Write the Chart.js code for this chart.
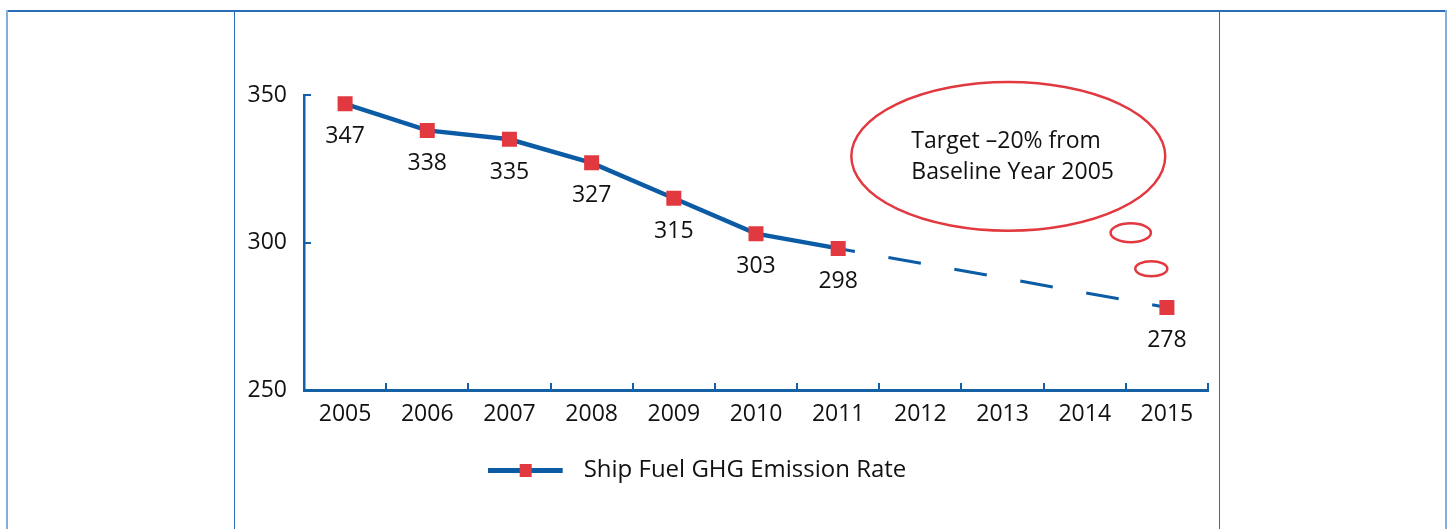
<!DOCTYPE html>
<html><head><meta charset="utf-8">
<script src="https://cdn.jsdelivr.net/npm/chart.js@4.4.0/dist/chart.umd.min.js"></script>
<style>
html,body{margin:0;padding:0;background:#fff;width:1453px;height:529px;overflow:hidden;}
#wrap{position:relative;width:1453px;height:529px;}
.vl{position:absolute;top:10px;bottom:0;}
#c{position:absolute;left:186px;top:0;width:1040px;height:529px;}
</style></head><body>
<div id="wrap">
<div style="position:absolute;left:6px;top:10px;width:1441px;height:2px;background:#2a6fb6"></div>
<div class="vl" style="left:6px;width:2px;background:#86afd8"></div>
<div class="vl" style="left:1445px;width:2px;background:#86afd8"></div>
<div class="vl" style="left:234px;width:1px;background:#2a6fb6"></div>
<div class="vl" style="left:1219px;width:1px;background:#2a6fb6"></div>
<canvas id="c" width="1040" height="529"></canvas>
</div>
<script>
// ---- data ----
const years = ['2005','2006','2007','2008','2009','2010','2011','2012','2013','2014','2015'];
const emissionRate = [347, 338, 335, 327, 315, 303, 298, null, null, null, 278];
const yTickValues = [250, 300, 350];
const seriesName = 'Ship Fuel GHG Emission Rate';
const calloutLines = ['Target \u201320% from', 'Baseline Year 2005'];

// ---- styles ----
const FONT = '"Open Sans", Lato, sans-serif';
const FS = 23;
const AXIS = '#155fa5';
const LINE = '#0b5ca5';
const RED = '#e2383f';
const TXT = '#111111';

// legend symbol: line with a square
const sym = document.createElement('canvas');
sym.width = 84; sym.height = 14;
(function(){
  const g = sym.getContext('2d');
  g.fillStyle = LINE; g.fillRect(0, 5, 75, 5);
  g.fillStyle = RED; g.fillRect(32, 1, 12, 13);
})();

const dataLabels = {
  id: 'dataLabels',
  afterDatasetsDraw(chart) {
    const ctx = chart.ctx;
    const meta = chart.getDatasetMeta(0);
    ctx.save();
    ctx.font = FS + 'px ' + FONT;
    ctx.fillStyle = TXT;
    ctx.textAlign = 'center';
    ctx.textBaseline = 'middle';
    meta.data.forEach((pt, i) => {
      const v = emissionRate[i];
      if (v === null) return;
      ctx.fillText(String(v), pt.x, pt.y + 33);
    });
    ctx.restore();
  }
};

// callout (thought bubble) placed in data coordinates
const callout = {
  id: 'callout',
  afterDatasetsDraw(chart) {
    const xs = chart.scales.x, ys = chart.scales.y, ctx = chart.ctx;
    const cw = xs.getPixelForValue(1) - xs.getPixelForValue(0);
    const uy = ys.getPixelForValue(250) - ys.getPixelForValue(251);
    const ell = (xi, yv, rxc, ryu) => {
      ctx.beginPath();
      ctx.ellipse(xs.getPixelForValue(xi), ys.getPixelForValue(yv), rxc * cw, ryu * uy, 0, 0, Math.PI * 2);
      ctx.stroke();
    };
    ctx.save();
    ctx.strokeStyle = RED; ctx.lineWidth = 2.5;
    ell(8.07, 329.2, 1.91, 25.2);
    ell(9.56, 303.3, 0.245, 3.2);
    ell(9.81, 291.1, 0.195, 2.55);
    ctx.font = FS + 'px ' + FONT;
    ctx.fillStyle = TXT;
    ctx.textAlign = 'left';
    ctx.textBaseline = 'middle';
    ctx.fillText(calloutLines[0], xs.getPixelForValue(6.89), ys.getPixelForValue(334.4));
    ctx.fillText(calloutLines[1], xs.getPixelForValue(6.89), ys.getPixelForValue(323.6));
    ctx.restore();
  }
};

new Chart(document.getElementById('c'), {
  type: 'line',
  data: {
    labels: years,
    datasets: [{
      label: seriesName,
      data: emissionRate,
      borderColor: LINE,
      borderWidth: 4.5,
      tension: 0,
      spanGaps: true,
      pointStyle: 'rect',
      pointRadius: 10.6,
      pointHoverRadius: 10.6,
      pointBackgroundColor: RED,
      pointBorderColor: RED,
      pointBorderWidth: 0,
      segment: {
        borderDash: c => c.p1DataIndex > 6 ? [33, 34] : undefined,
        borderDashOffset: c => c.p1DataIndex > 6 ? 16 : undefined,
        borderWidth: c => c.p1DataIndex > 6 ? 3 : undefined
      }
    }]
  },
  options: {
    responsive: false,
    devicePixelRatio: 1,
    animation: false,
    layout: { padding: { top: 95, left: 0, right: 18, bottom: 37 } },
    plugins: {
      tooltip: { enabled: false },
      legend: {
        position: 'bottom',
        labels: {
          usePointStyle: true,
          pointStyle: sym,
          pointStyleWidth: 84,
          font: { family: FONT, size: 24 },
          color: TXT,
          padding: 10
        }
      }
    },
    scales: {
      x: {
        offset: true,
        grid: { offset: true, drawOnChartArea: false, drawTicks: true, tickLength: -7, color: AXIS, lineWidth: 2 },
        border: { color: AXIS, width: 3 },
        ticks: { font: { family: FONT, size: FS }, color: TXT, padding: 18, maxRotation: 0, autoSkip: false },
        afterFit: s => { s.height = 58; }
      },
      y: {
        min: 250, max: 350,
        afterBuildTicks: s => { s.ticks = yTickValues.map(v => ({ value: v })); },
        grid: { drawOnChartArea: false, drawTicks: true, tickLength: -7, color: AXIS, lineWidth: 2 },
        border: { color: AXIS, width: 2.5 },
        ticks: { font: { family: FONT, size: FS }, color: TXT, padding: 24 },
        afterFit: s => { s.width = 118; }
      }
    }
  },
  plugins: [dataLabels, callout]
});
</script>
</body></html>
